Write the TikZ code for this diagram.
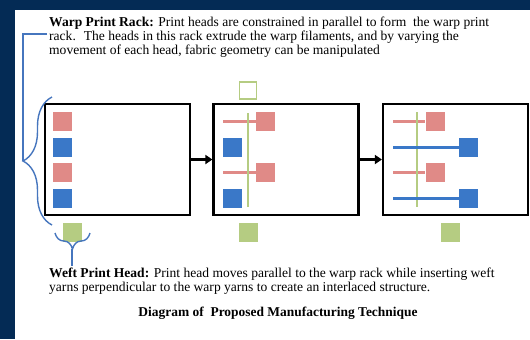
\documentclass[tikz,border=0pt]{standalone}
\usepackage{fontspec}
\setmainfont{Liberation Serif}
\usetikzlibrary{positioning,decorations.pathreplacing,arrows.meta}
\definecolor{navy}{RGB}{4,43,85}
\definecolor{warppink}{RGB}{224,138,135}
\definecolor{weftblue}{RGB}{58,120,200}
\definecolor{headgreen}{RGB}{181,204,130}
\definecolor{bracketblue}{RGB}{70,118,190}
\tikzset{
  stage/.style={draw=black,line width=2.2bp,minimum width=145bp,minimum height=111bp,inner sep=0pt},
  sq/.style={minimum size=19bp,inner sep=0pt},
  pinksq/.style={sq,fill=warppink},
  bluesq/.style={sq,fill=weftblue},
  greensq/.style={sq,fill=headgreen},
  pinkline/.style={draw=warppink,line width=3bp},
  blueline/.style={draw=weftblue,line width=3bp},
  greenline/.style={draw=headgreen,line width=2bp},
  bracket/.style={draw=bracketblue,line width=1.4bp},
  note/.style={font=\fontsize{13.6}{14.4}\selectfont,align=left,inner sep=0pt},
}
\begin{document}
\begin{tikzpicture}[x=1bp,y=-1bp]
\useasboundingbox (0,0) rectangle (530,339);
\fill[navy] (0,0) rectangle (530,339);
\fill[white] (15,10) rectangle (530,339);

% three stages
\node[stage] (stageA) at (117.5,159.5) {};
\node[stage] (stageB) at (286,159.5) {};
\node[stage] (stageC) at (455.5,159.5) {};
\draw[-{Triangle[length=7bp,width=9bp]},line width=2.4bp] (stageA) -- (stageB);
\draw[-{Triangle[length=7bp,width=9bp]},line width=2.4bp] (stageB) -- (stageC);

% stage A: rack at rest
\node[pinksq] (a1) at (62.5,121.5) {};
\node[bluesq] (a2) at (62.5,147) {};
\node[pinksq] (a3) at (62.5,172.5) {};
\node[bluesq] (a4) at (62.5,198) {};
\node[greensq] (ga) at (72,232.5) {};

% stage B: warp heads forward
\node[pinksq] (b1) at (265.5,121.5) {};
\node[bluesq] (b2) at (232.5,147) {};
\node[pinksq] (b3) at (265.5,172.5) {};
\node[bluesq] (b4) at (232.5,198) {};
\draw[pinkline] (223,121.5) -- (b1.west);
\draw[pinkline] (223,172.5) -- (b3.west);
\draw[greenline] (248,113) -- (248,207);
\node[sq,draw=headgreen,line width=1.5bp,minimum size=17bp] (gtop) at (248,90.5) {};
\node[greensq] (gb) at (248.5,232.5) {};

% stage C: weft heads forward
\node[pinksq] (c1) at (435,121.5) {};
\node[bluesq] (c2) at (468.5,147) {};
\node[pinksq] (c3) at (435,172.5) {};
\node[bluesq] (c4) at (468.5,198) {};
\draw[pinkline] (393,121.5) -- (c1.west);
\draw[pinkline] (393,172.5) -- (c3.west);
\draw[greenline] (417,112) -- (417,207);
\draw[blueline] (393,147) -- (c2.west);
\draw[blueline] (393,198) -- (c4.west);
\node[greensq] (gc) at (450,232.5) {};

% labels
\node[note,anchor=north west] (rack) at (49,16.5) {\textbf{Warp Print Rack:} Print heads are constrained in parallel to form \ the warp print\\
rack. \ The heads in this rack extrude the warp filaments, and by varying the\\
movement of each head, fabric geometry can be manipulated};
\node[note,anchor=north west] (weft) at (49,267.5) {\textbf{Weft Print Head:} Print head moves parallel to the warp rack while inserting weft\\
yarns perpendicular to the warp yarns to create an interlaced structure.};
\node[font=\fontsize{13.5}{14}\selectfont\bfseries,inner sep=0pt] (title) at (278,313) {Diagram of \ Proposed Manufacturing Technique};

% brackets
\draw[bracket,decorate,decoration={brace,amplitude=29bp}] (52,225) -- (52,97);
\coordinate (racktip) at (23,161);
\draw[bracket] (47,34) -| (racktip);
\draw[bracket,decorate,decoration={brace,amplitude=16bp}] (90,233) -- (55,233);
\coordinate (wefttip) at (72,249);
\draw[bracket] (wefttip) -- (72,266);
\end{tikzpicture}
\end{document}
